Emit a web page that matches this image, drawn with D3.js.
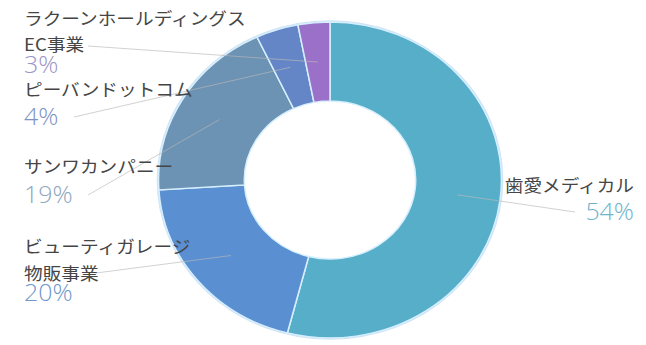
<!DOCTYPE html>
<html>
<head>
<meta charset="utf-8">
<script src="https://cdn.jsdelivr.net/npm/d3@7"></script>
<style>
  html, body { margin: 0; padding: 0; background: #fff; }
  svg { display: block; }
</style>
</head>
<body>
<svg id="chart" width="646" height="345"></svg>
<script>
// ---- data ----
const categories = ["歯愛メディカル", "ビューティガレージ物販事業", "サンワカンパニー", "ピーバンドットコム", "ラクーンホールディングスEC事業"];
const categoryLines = [["歯愛メディカル"], ["ビューティガレージ", "物販事業"], ["サンワカンパニー"], ["ピーバンドットコム"], ["ラクーンホールディングス", "EC事業"]];
const values = [54, 20, 19, 4, 3];
const colors = ["#57aec8", "#5a8fd1", "#6c92b4", "#6486c6", "#9a70c9"];
const pctColors = ["#6fb4cc", "#6f97cb", "#8ea6bd", "#7d93c4", "#9b96c6"];

// ---- layout (screen positions of labels) ----
const labelLayout = [
  { anchor: "end",   x: 634, ys: [184.5, 211],        end: [575, 212] },
  { anchor: "start", x: 24,  ys: [245, 272, 292],     end: [96, 273] },
  { anchor: "start", x: 24,  ys: [165.5, 194],        end: [88, 195] },
  { anchor: "start", x: 24,  ys: [88.5, 115.5],       end: [74, 117] },
  { anchor: "start", x: 24,  ys: [17, 43, 64],        end: [88, 46] }
];

const cx = 330, cy = 180, R = 158, r = 79, sx = 1.085;
const svg = d3.select("#chart");

const pie = d3.pie().value(d => d).sort(null);
const arcs = pie(values);
const arc = d3.arc().innerRadius(r).outerRadius(R);
const midArc = d3.arc().innerRadius((R + r) / 2).outerRadius((R + r) / 2);

const g = svg.append("g").attr("transform", `translate(${cx},${cy}) scale(${sx},1)`);

// outer halo
g.append("circle").attr("r", R + 0.5).attr("fill", "none")
  .attr("stroke", "#cfe4f4").attr("stroke-width", 2.5);

g.selectAll("path.slice").data(arcs).join("path")
  .attr("class", "slice")
  .attr("d", arc)
  .attr("fill", (d, i) => colors[i])
  .attr("stroke", "#d6efff")
  .attr("stroke-width", 1.4);

const total = d3.sum(values);

// leader lines
svg.selectAll("line.leader").data(arcs).join("line")
  .attr("class", "leader")
  .attr("x1", d => cx + sx * midArc.centroid(d)[0])
  .attr("y1", d => cy + midArc.centroid(d)[1])
  .attr("x2", (d, i) => labelLayout[i].end[0])
  .attr("y2", (d, i) => labelLayout[i].end[1])
  .attr("stroke", "#b8b8b8")
  .attr("stroke-opacity", 0.65)
  .attr("stroke-width", 1);

// labels
arcs.forEach((d, i) => {
  const L = labelLayout[i];
  const lines = categoryLines[i];
  lines.forEach((t, j) => {
    svg.append("text")
      .attr("transform", `translate(${L.x},${L.ys[j]}) scale(${sx},1)`)
      .attr("text-anchor", L.anchor)
      .attr("dominant-baseline", "central")
      .attr("font-family", "'Noto Sans CJK JP', 'Noto Sans', sans-serif")
      .attr("font-size", 17.2)
      .attr("fill", "#454545")
      .text(t);
  });
  const pct = Math.round(values[i] / total * 100) + "%";
  svg.append("text")
    .attr("transform", `translate(${L.x},${L.ys[lines.length]}) scale(${sx},1)`)
    .attr("text-anchor", L.anchor)
    .attr("dominant-baseline", "central")
    .attr("font-family", "'Open Sans', 'Noto Sans', sans-serif")
    .attr("font-weight", 300)
    .attr("font-size", 23)
    .attr("fill", pctColors[i])
    .text(pct);
});
</script>
</body>
</html>
